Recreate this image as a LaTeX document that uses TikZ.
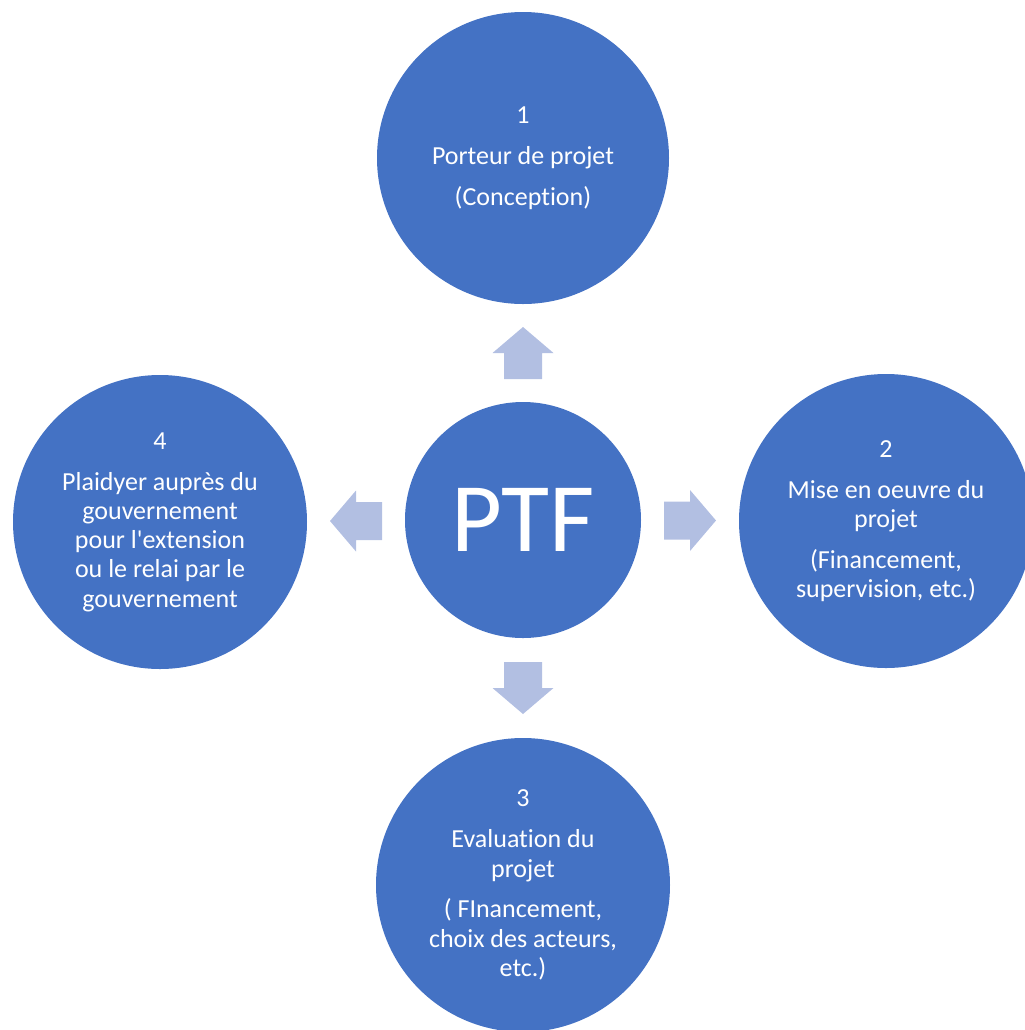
\documentclass[tikz,border=0pt]{standalone}
\usepackage{fontspec}
\setmainfont{Carlito}[Ligatures=CommonOff]
\usetikzlibrary{calc}
\definecolor{disque}{HTML}{4472C4}
\definecolor{fleche}{RGB}{178,191,226}

\begin{document}
\begin{tikzpicture}[
		etape/.style={circle,fill=disque,text=white,minimum size=2.94cm,inner sep=0pt,align=center,font=\fontsize{7.4}{8.33}\selectfont},
		bloc/.style={fill=fleche}]
		\useasboundingbox (0,0) rectangle (10.24,-10.30);
		\node[etape,minimum size=2.36cm,font=\fontsize{28}{30}\selectfont] (ptf) at (5.23,-5.20) {PTF};
		\node[etape,minimum size=2.92cm] (porteur) at (5.23,-1.58) {1\\[3.3pt]Porteur de projet\\[3.3pt](Conception)};
		\node[etape] (miseoeuvre) at (8.86,-5.21) {2\\[3.3pt]Mise en oeuvre du\\projet\\[3.3pt](Financement,\\supervision, etc.)};
		\node[etape] (evaluation) at (5.23,-8.85) {3\\[3.3pt]Evaluation du\\projet\\[3.3pt]( FInancement,\\choix des acteurs,\\etc.)};
		\node[etape] (plaidoyer) at (1.60,-5.22) {4\\[3.3pt]Plaidyer auprès du\\gouvernement\\pour l\textquotesingle extension\\ou le relai par le\\gouvernement};
		\foreach \depart/\arrivee/\rot in {ptf.north/porteur.south/90, ptf.east/miseoeuvre.west/0, ptf.south/evaluation.north/-90, ptf.west/plaidoyer.east/180}{
			\coordinate (milieu) at ($(\depart)!0.5!(\arrivee)$);
			\fill[bloc,shift={(milieu)},rotate=\rot] (-0.26,-0.19)--(0,-0.19)--(0,-0.305)--(0.26,0)--(0,0.305)--(0,0.19)--(-0.26,0.19)--cycle;
		}
	\end{tikzpicture}
\end{document}
